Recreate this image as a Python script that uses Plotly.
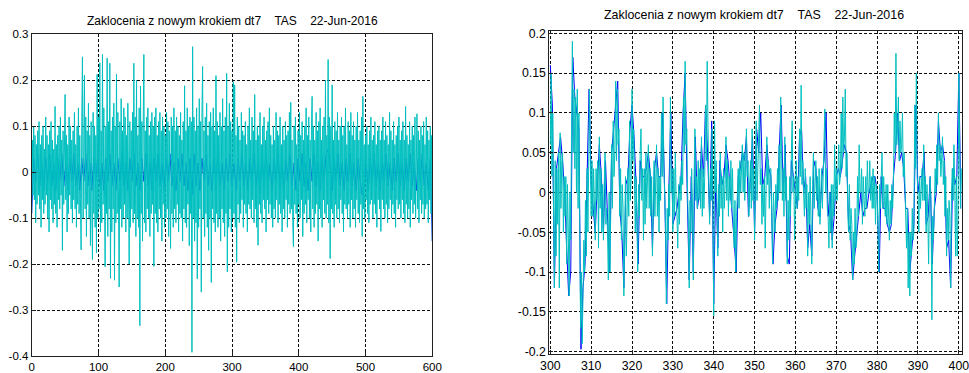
import numpy as np
import plotly.graph_objects as go

TITLE = "Zaklocenia z nowym krokiem dt7\u00a0\u00a0\u00a0\u00a0TAS\u00a0\u00a0\u00a0\u00a022-Jun-2016"

# ---------------- left panel: whole record 0..600 ----------------
left_t0 = 0.0
left_dt_cyan = 1.0
left_dt_blue = 3.0

left_cyan = [
    -0.09, 0.07, -0.05, 0.10, -0.06, 0.08, -0.11, 0.06, -0.07, 0.09, -0.05, 0.11, -0.08, 0.06, -0.12, 0.08, -0.06, 0.10, -0.09, 0.05,
    -0.07, 0.12, -0.05, 0.08, -0.10, 0.06, -0.13, 0.09, -0.06, 0.11, -0.08, 0.07, -0.11, 0.05, -0.07, 0.143, -0.09, 0.06, -0.12, 0.08,
    -0.06, 0.10, -0.08, 0.12, -0.05, 0.07, -0.17, 0.09, -0.07, 0.11, 0.169, -0.06, 0.08, -0.13, 0.06, -0.09, 0.12, -0.05, 0.10, -0.08,
    0.07, -0.11, 0.09, -0.06, 0.13, -0.08, 0.06, -0.12, 0.10, -0.07, 0.14, -0.09, 0.08, -0.06, -0.169, 0.11, 0.251, -0.10, 0.07, 0.211,
    -0.08, 0.12, -0.14, 0.09, -0.07, 0.15, -0.10, 0.08, -0.16, 0.11, -0.07, -0.19, 0.13, -0.09, 0.10, -0.12, 0.08, -0.176, 0.213, -0.10,
    0.12, -0.08, 0.238, -0.13, 0.09, -0.11, 0.256, -0.07, 0.14, -0.12, -0.206, 0.10, -0.09, 0.248, -0.14, 0.11, -0.08, 0.237, -0.231, 0.09,
    -0.13, 0.12, -0.08, 0.15, -0.235, 0.10, -0.11, 0.213, -0.09, 0.13, -0.15, -0.25, 0.11, -0.08, 0.16, -0.12, 0.09, -0.10, 0.14, -0.07,
    0.12, -0.13, 0.08, -0.10, 0.15, -0.09, -0.20, 0.11, -0.12, 0.09, -0.08, 0.13, -0.11, 0.237, -0.09, 0.12, -0.14, 0.20, -0.10, 0.08,
    -0.12, 0.14, -0.334, 0.187, -0.09, 0.11, -0.15, 0.10, 0.256, -0.11, 0.09, -0.13, 0.12, -0.08, 0.14, -0.10, 0.08, -0.14, 0.11, -0.09,
    0.13, -0.07, 0.10, -0.205, 0.12, -0.09, 0.14, -0.11, 0.08, -0.13, 0.11, -0.08, 0.13, -0.10, 0.09, -0.15, 0.12, -0.07, 0.10, -0.12,
    0.08, -0.10, 0.13, -0.08, 0.11, -0.14, 0.09, -0.07, -0.166, 0.12, -0.09, 0.10, -0.12, 0.14, -0.08, 0.09, -0.11, 0.12, -0.07, 0.10,
    -0.13, 0.08, -0.09, 0.13, -0.10, 0.07, -0.15, 0.11, -0.08, 0.188, -0.11, 0.09, -0.12, 0.14, -0.07, 0.10, -0.16, 0.12, -0.09, 0.11,
    -0.392, 0.273, -0.10, 0.12, -0.15, 0.09, -0.11, 0.14, -0.232, 0.10, -0.12, 0.16, -0.08, 0.11, -0.261, 0.13, 0.23, -0.10, 0.09, -0.14,
    0.12, -0.09, 0.15, -0.12, 0.08, -0.17, 0.11, -0.10, 0.13, -0.24, 0.10, -0.08, 0.14, -0.11, 0.09, -0.13, 0.21, -0.09, 0.11, -0.12,
    0.08, -0.10, 0.13, -0.15, 0.10, -0.08, 0.16, -0.11, 0.09, -0.14, 0.12, -0.09, 0.215, -0.217, 0.10, -0.12, 0.15, -0.08, 0.11, -0.13,
    0.09, -0.10, 0.197, -0.09, 0.19, -0.12, 0.08, -0.196, 0.12, -0.07, 0.10, -0.11, 0.07, -0.09, 0.13, -0.06, 0.09, -0.12, 0.08, -0.07,
    0.11, -0.09, 0.06, -0.13, 0.10, -0.07, 0.14, -0.08, 0.07, -0.10, 0.12, -0.06, 0.09, -0.11, 0.169, -0.08, 0.07, -0.12, 0.10, -0.159,
    0.08, -0.07, 0.13, -0.09, 0.06, -0.11, 0.10, -0.06, 0.12, -0.08, 0.07, -0.13, 0.09, -0.06, 0.11, -0.09, 0.14, -0.07, 0.08, -0.10,
    0.06, -0.12, 0.10, -0.08, 0.07, -0.10, 0.13, -0.06, 0.09, -0.11, 0.08, -0.07, 0.12, -0.09, 0.06, -0.13, 0.10, -0.08, 0.07, -0.10,
    0.11, -0.06, 0.08, -0.12, 0.09, -0.07, 0.13, -0.09, 0.152, -0.08, 0.07, -0.11, -0.162, 0.10, -0.07, 0.12, -0.09, 0.06, -0.12, 0.09,
    -0.07, 0.13, -0.10, 0.08, -0.06, 0.11, -0.14, 0.07, -0.09, 0.10, -0.07, 0.14, -0.11, 0.08, -0.06, 0.12, -0.10, 0.07, -0.13, 0.09,
    0.165, -0.08, 0.10, -0.12, 0.07, -0.09, 0.13, -0.07, 0.09, -0.15, 0.11, -0.08, 0.14, -0.10, 0.07, -0.12, 0.10, -0.06, 0.12, -0.09,
    0.20, -0.10, 0.08, -0.07, 0.245, -0.11, 0.12, -0.188, 0.10, -0.08, 0.19, -0.09, 0.07, -0.12, 0.11, -0.07, 0.09, -0.10, 0.13, -0.08,
    0.07, -0.11, 0.10, -0.06, 0.12, -0.09, 0.08, -0.13, 0.10, -0.07, 0.14, -0.08, 0.06, -0.10, 0.11, -0.07, 0.09, -0.12, 0.13, -0.06,
    0.08, -0.10, 0.11, -0.08, 0.07, -0.12, 0.10, -0.06, 0.13, -0.09, 0.07, -0.11, 0.09, -0.07, 0.12, -0.14, 0.165, -0.08, 0.06, -0.10,
    0.08, -0.06, 0.10, -0.09, 0.06, -0.11, 0.09, -0.07, 0.12, -0.06, 0.07, -0.10, 0.08, -0.07, 0.11, -0.09, 0.06, -0.12, 0.09, -0.06,
    0.10, -0.08, 0.07, -0.129, 0.09, -0.06, 0.12, -0.08, 0.07, -0.10, 0.11, -0.07, 0.08, -0.11, 0.06, -0.08, 0.13, -0.06, 0.09, -0.10,
    0.07, -0.07, 0.11, -0.09, 0.06, -0.12, 0.08, -0.06, 0.10, -0.08, 0.12, -0.07, 0.07, -0.10, 0.09, -0.06, 0.11, -0.09, 0.07, -0.11,
    0.143, -0.07, 0.08, -0.10, 0.06, -0.08, 0.11, -0.12, 0.07, -0.06, 0.10, -0.09, 0.08, -0.07, 0.12, -0.10, 0.06, 0.127, -0.08, 0.09,
    -0.11, 0.07, -0.06, 0.10, -0.09, 0.08, -0.07, 0.11, -0.10, 0.06, -0.08, 0.12, -0.07, 0.09, -0.11, 0.07, -0.06, 0.10, -0.09, 0.08,
    -0.15,
]

left_blue = [
    -0.09, 0.03, -0.02, 0.04, -0.03, 0.02, -0.04, 0.03, -0.02, 0.04,
    -0.03, 0.02, -0.04, 0.03, -0.02, 0.04, -0.03, 0.02, -0.04, 0.03,
    -0.02, 0.04, -0.03, 0.02, -0.04, 0.03, -0.02, 0.04, -0.03, 0.02,
    -0.04, 0.03, -0.02, 0.04, -0.03, 0.02, -0.04, 0.03, -0.02, 0.04,
    -0.03, 0.02, -0.04, 0.03, -0.02, 0.04, -0.03, 0.02, -0.04, 0.03,
    -0.02, 0.04, -0.03, 0.02, -0.04, 0.03, -0.02, 0.04, -0.03, 0.02,
    -0.04, 0.03, -0.02, 0.04, -0.03, 0.02, -0.04, 0.03, -0.02, 0.04,
    -0.03, 0.02, -0.04, 0.03, -0.02, 0.04, -0.03, 0.02, -0.04, 0.03,
    -0.05, 0.04, -0.03, 0.02, -0.04, 0.03, -0.02, 0.04, -0.03, 0.02,
    -0.04, 0.03, -0.02, 0.04, -0.03, 0.02, -0.04, 0.03, -0.02, 0.04,
    -0.03, 0.02, -0.04, 0.03, -0.02, 0.04, -0.03, 0.02, -0.04, 0.03,
    -0.02, 0.04, -0.03, 0.02, -0.04, 0.03, -0.02, 0.04, -0.03, 0.02,
    -0.04, 0.03, -0.02, 0.04, -0.03, 0.02, -0.04, 0.03, -0.02, 0.04,
    -0.03, 0.02, -0.04, 0.03, -0.02, 0.04, -0.03, 0.02, -0.04, 0.03,
    -0.02, 0.04, -0.03, 0.02, -0.04, 0.03, -0.02, 0.04, 0.05, 0.02,
    -0.04, 0.03, -0.02, 0.04, -0.03, 0.02, -0.04, 0.03, -0.02, 0.04,
    -0.03, 0.02, -0.04, 0.03, -0.02, -0.05, -0.03, 0.02, -0.04, 0.03,
    -0.02, 0.04, -0.03, 0.02, -0.04, 0.03, -0.02, 0.04, -0.03, 0.02,
    -0.04, 0.03, -0.02, 0.04, -0.03, 0.02, -0.04, 0.03, -0.02, 0.04,
    -0.03, 0.02, -0.04, 0.03, -0.02, 0.04, -0.03, 0.02, -0.04, 0.03,
    -0.15,
]

# ---------------- right panel: zoom 300..400 ----------------
right_t0 = 300.0
right_dt_cyan = 0.2
right_dt_blue = 0.5

right_cyan = [
    0.06, 0.15, 0.02, 0.10, -0.03,   -0.12, 0.04, -0.08, 0.03, -0.04,   0.05, -0.12, 0.075, -0.02, 0.04,
    0.05, -0.05, 0.02, -0.03, 0.02,   -0.09, 0.01, -0.05, -0.13, 0.0,   -0.06, 0.08, 0.19, 0.05, 0.13,
    0.03, 0.12, 0.0, 0.13, -0.02,   0.10, -0.04, -0.17, -0.10, -0.19,   -0.13, -0.06, -0.10, -0.01, -0.08,
    0.03, -0.05, 0.02, 0.13, 0.04,   -0.03, 0.04, -0.03, 0.03, -0.02,   -0.06, 0.03, -0.01, 0.04, -0.07,
    0.07, -0.02, 0.03, -0.05, 0.01,   -0.06, 0.01, 0.05, -0.04, -0.02,   -0.05, -0.11, 0.0, -0.10, -0.02,
    0.06, -0.02, 0.09, 0.02, 0.05,   0.14, 0.04, 0.13, 0.06, 0.08,   -0.03, 0.03, -0.06, 0.01, -0.02,
    -0.13, -0.04, 0.02, -0.08, 0.0,   0.03, -0.03, 0.09, -0.01, 0.02,   0.13, 0.04, 0.08, -0.02, -0.05,
    0.02, -0.06, -0.10, 0.01, -0.03,   0.05, 0.08, -0.01, 0.03, -0.06,   0.03, -0.04, 0.05, -0.02, 0.01,
    0.06, -0.02, 0.03, -0.03, 0.02,   -0.08, -0.01, 0.04, -0.03, 0.01,   0.06, -0.03, 0.03, -0.05, 0.02,
    -0.01, 0.10, 0.02, 0.12, 0.03,   0.0, -0.04, -0.14, -0.02, -0.06,   0.01, -0.03, 0.12, 0.0, 0.03,
    -0.05, 0.03, -0.03, 0.05, -0.01,   -0.03, -0.07, 0.01, -0.04, 0.02,   -0.01, 0.04, 0.01, 0.12, 0.05,
    0.165, 0.06, 0.08, 0.0, -0.04,   -0.12, -0.01, -0.05, 0.03, -0.02,   -0.11, 0.02, 0.08, -0.01, 0.02,
    -0.02, 0.04, -0.01, 0.03, -0.02,   0.07, -0.03, 0.03, -0.02, 0.02,   0.11, 0.04, 0.165, 0.05, 0.0,
    -0.04, 0.03, -0.01, 0.08, -0.02,   -0.155, 0.09, 0.0, 0.04, -0.04,   -0.08, 0.01, -0.03, 0.05, -0.02,
    0.02, -0.05, 0.03, -0.02, 0.01,   0.07, -0.01, 0.04, -0.03, 0.02,   -0.01, 0.04, -0.02, 0.03, -0.04,
    -0.07, -0.01, -0.10, -0.03, 0.02,   0.03, -0.02, 0.04, 0.0, 0.03,   0.06, 0.0, 0.05, -0.01, 0.04,
    0.08, 0.02, 0.04, -0.03, 0.02,   0.04, -0.02, 0.08, -0.01, 0.03,   -0.06, 0.02, 0.09, -0.01, 0.04,
    0.06, 0.11, 0.01, 0.03, -0.04,   0.01, -0.03, 0.02, -0.07, 0.0,   0.07, 0.01, 0.04, -0.02, 0.03,
    0.03, -0.03, -0.09, 0.0, -0.04,   -0.05, 0.01, -0.02, 0.03, -0.01,   0.06, 0.0, 0.12, 0.03, -0.01,
    0.03, -0.03, 0.07, -0.01, 0.02,   -0.09, -0.01, -0.06, 0.02, -0.03,   0.05, 0.09, 0.0, 0.02, -0.06,
    0.0, 0.04, -0.02, 0.02, -0.01,   0.08, 0.02, 0.135, 0.01, 0.04,   0.0, -0.03, 0.03, -0.02, 0.01,
    -0.08, 0.0, -0.04, 0.02, -0.03,   -0.09, 0.01, 0.05, -0.02, 0.02,   0.04, -0.01, 0.02, -0.03, 0.03,
    -0.04, 0.01, 0.03, -0.02, 0.02,   0.05, 0.105, 0.0, 0.03, -0.02,   -0.03, -0.07, 0.0, -0.05, 0.01,
    -0.07, 0.01, -0.03, 0.06, -0.01,   0.03, -0.01, 0.03, 0.06, 0.01,   0.02, 0.10, 0.03, 0.12, 0.05,
    0.07, 0.13, 0.02, 0.05, -0.02,   -0.05, 0.01, -0.06, -0.02, -0.04,   -0.11, -0.05, -0.09, -0.02, -0.07,
    -0.06, 0.02, -0.03, 0.06, 0.0,   0.0, 0.03, -0.04, 0.02, -0.01,   -0.03, 0.02, -0.02, 0.04, 0.0,
    0.0, 0.04, -0.01, 0.02, -0.02,   0.03, -0.02, 0.02, -0.04, 0.01,   0.0, -0.05, -0.10, 0.01, -0.02,
    0.02, 0.05, -0.02, 0.02, -0.01,   -0.03, 0.01, -0.04, 0.01, -0.02,   -0.06, -0.01, -0.04, 0.01, -0.02,
    0.02, 0.10, 0.05, 0.175, 0.06,   0.08, 0.12, 0.04, 0.09, 0.05,   0.06, 0.10, 0.02, 0.05, 0.01,
    -0.03, -0.07, -0.02, -0.12, -0.05,   -0.13, -0.05, -0.08, -0.02, -0.06,   -0.05, 0.11, 0.03, 0.15, 0.02,
    0.0, -0.05, 0.02, -0.02, 0.01,   0.03, -0.01, 0.06, -0.01, 0.02,   -0.05, 0.01, -0.03, -0.09, -0.01,
    0.02, -0.02, -0.16, -0.03, -0.06,   -0.02, 0.03, 0.0, 0.06, 0.01,   0.10, 0.04, 0.06, 0.02, 0.05,
    0.07, 0.01, 0.04, -0.03, 0.02,   -0.08, -0.02, -0.06, -0.01, -0.03,   -0.12, 0.0, 0.03, -0.01, 0.06,
    0.01, -0.08, 0.02, -0.08, -0.03,   0.15, 0.06, -0.02, 0.03, 0.0,
]

right_blue = [
    0.16, 0.11, -0.12, 0.03, 0.05, 0.07, 0.04, 0.0, -0.07, -0.13,
    -0.10, 0.17, 0.12, 0.10, 0.08, -0.197, -0.12, -0.09, 0.02, 0.13,
    0.01, -0.02, -0.05, 0.01, 0.06, 0.02, -0.05, 0.04, -0.04, -0.10,
    0.05, 0.08, 0.12, 0.14, -0.02, -0.05, -0.12, 0.01, 0.02, 0.08,
    0.11, 0.07, 0.01, -0.09, 0.04, 0.02, 0.02, 0.03, 0.05, 0.02,
    -0.07, 0.03, 0.05, 0.02, 0.02, 0.10, 0.0, -0.14, 0.0, 0.10,
    -0.04, -0.03, -0.02, 0.0, 0.02, 0.10, 0.15, 0.0, -0.11, 0.02,
    -0.10, 0.07, -0.02, 0.0, 0.06, 0.02, 0.11, 0.05, -0.03, 0.09,
    -0.14, 0.02, -0.07, 0.04, 0.01, 0.02, 0.06, 0.04, 0.01, -0.02,
    -0.06, -0.10, 0.02, 0.03, 0.05, 0.04, 0.07, -0.03, 0.03, 0.07,
    -0.05, 0.08, 0.05, 0.10, 0.01, 0.02, 0.06, 0.03, 0.02, -0.09,
    -0.04, -0.02, 0.05, 0.11, 0.0, 0.06, -0.08, -0.09, 0.04, 0.02,
    0.0, -0.02, 0.07, 0.08, 0.0, 0.02, -0.07, -0.04, -0.08, 0.04,
    0.03, -0.02, -0.03, 0.02, 0.04, 0.10, -0.03, 0.0, -0.06, -0.03,
    0.02, 0.03, 0.02, 0.04, 0.06, 0.05, -0.04, -0.05, -0.11, -0.08,
    -0.05, -0.03, 0.0, -0.03, -0.02, -0.02, 0.0, 0.01, 0.02, 0.02,
    0.0, -0.10, 0.02, -0.02, -0.02, -0.04, -0.05, -0.04, 0.02, 0.05,
    0.10, 0.04, 0.05, 0.03, -0.02, -0.02, -0.10, -0.07, -0.04, 0.11,
    0.0, 0.02, 0.02, 0.05, -0.04, -0.03, 0.02, -0.09, -0.02, 0.0,
    0.09, 0.05, 0.06, 0.04, -0.07, -0.06, -0.12, 0.03, 0.01, 0.02,
    0.15, -0.02,
]

# ---------------- axis ticks ----------------
left_xticks = [0, 100, 200, 300, 400, 500, 600]
left_yticks = [0.3, 0.2, 0.1, 0, -0.1, -0.2, -0.3, -0.4]
left_ylabels = ["0.3", "0.2", "0.1", "0", "-0.1", "-0.2", "-0.3", "-0.4"]
right_xticks = [300, 310, 320, 330, 340, 350, 360, 370, 380, 390, 400]
right_yticks = [0.2, 0.15, 0.1, 0.05, 0, -0.05, -0.1, -0.15, -0.2]
right_ylabels = ["0.2", "0.15", "0.1", "0.05", "0", "-0.05", "-0.1", "-0.15", "-0.2"]

t_left_cyan = left_t0 + left_dt_cyan * np.arange(len(left_cyan))
t_left_blue = left_t0 + left_dt_blue * np.arange(len(left_blue))
t_right_cyan = right_t0 + right_dt_cyan * np.arange(len(right_cyan))
t_right_blue = right_t0 + right_dt_blue * np.arange(len(right_blue))

BLUE = "rgb(0,0,255)"
CYAN = "rgb(0,191,191)"
FONT = "Liberation Sans, Arial, Helvetica, sans-serif"

fig = go.Figure()
fig.add_trace(go.Scatter(x=t_left_blue, y=left_blue, mode="lines",
                         line=dict(color=BLUE, width=1), xaxis="x", yaxis="y"))
fig.add_trace(go.Scatter(x=t_left_cyan, y=left_cyan, mode="lines",
                         line=dict(color=CYAN, width=1), xaxis="x", yaxis="y"))
fig.add_trace(go.Scatter(x=t_right_blue, y=right_blue, mode="lines",
                         line=dict(color=BLUE, width=1), xaxis="x2", yaxis="y2"))
fig.add_trace(go.Scatter(x=t_right_cyan, y=right_cyan, mode="lines",
                         line=dict(color=CYAN, width=1), xaxis="x2", yaxis="y2"))

W, H = 969, 373

def axis_common(fs):
    return dict(showline=True, mirror=True, linecolor="#202020", linewidth=1,
                showgrid=True, gridcolor="rgba(0,0,0,0.95)", gridwidth=1,
                griddash="3px,2px", zeroline=False, ticks="inside", ticklen=4,
                tickcolor="#202020", automargin=False, ticklabeloverflow="allow",
                tickfont=dict(family=FONT, size=fs, color="black"))

fig.update_layout(
    template="none",
    width=W, height=H,
    autosize=False,
    margin=dict(l=0, r=0, t=0, b=0, pad=0, autoexpand=False),
    paper_bgcolor="white", plot_bgcolor="white",
    showlegend=False,
    xaxis=dict(domain=[31.7 / W, 432.3 / W], range=[0, 600], anchor="y",
               tickvals=left_xticks, ticktext=[str(v) for v in left_xticks],
               **axis_common(11.5)),
    yaxis=dict(domain=[1 - 356.0 / H, 1 - 34.3 / H], range=[-0.4, 0.3], anchor="x",
               tickvals=left_yticks, ticktext=left_ylabels, **axis_common(11.5)),
    xaxis2=dict(domain=[549.3 / W, 961.7 / W], range=[299.75, 400.7], anchor="y2",
                tickvals=right_xticks, ticktext=[str(v) for v in right_xticks],
                **axis_common(12.3)),
    yaxis2=dict(domain=[1 - 354.4 / H, 1 - 30.6 / H], range=[-0.2035, 0.2035], anchor="x2",
                tickvals=right_yticks, ticktext=right_ylabels, **axis_common(12.3)),
    annotations=[
        dict(text=TITLE, x=232.0 / W, y=1 - 20.7 / H, xref="paper", yref="paper",
             xanchor="center", yanchor="middle", showarrow=False,
             font=dict(family=FONT, size=12, color="black")),
        dict(text=TITLE, x=754.0 / W, y=1 - 15.0 / H, xref="paper", yref="paper",
             xanchor="center", yanchor="middle", showarrow=False,
             font=dict(family=FONT, size=12.4, color="black")),
    ],
)

fig.write_html("out.html", config={"displayModeBar": False},
               post_script="document.body.style.margin='0px';document.body.style.overflow='hidden';")
